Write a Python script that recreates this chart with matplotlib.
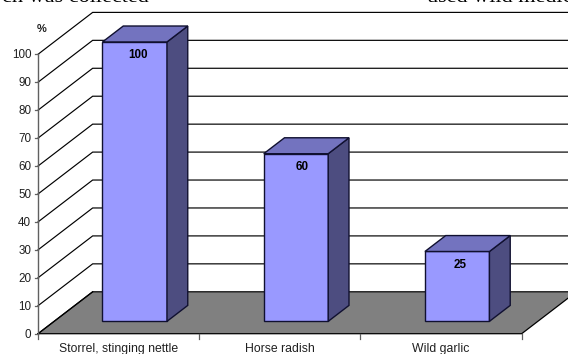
import matplotlib
matplotlib.use('Agg')
import matplotlib.pyplot as plt
from matplotlib.patches import Polygon

categories = ['Storrel, stinging nettle', 'Horse radish', 'Wild garlic']
values = [100, 60, 25]
y_ticks = [0, 10, 20, 30, 40, 50, 60, 70, 80, 90, 100]

# oblique depth of the chart box, in axis units
depth_x = 0.339
depth_y = 15.0
bar_width = 0.4
bar_front = 0.295
bar_back = 0.675
label_nudge = [0.02, 0.04, 0.02]

W, H = 568, 354
plt.rcParams['font.family'] = ['Liberation Sans', 'DejaVu Sans']

fig = plt.figure(figsize=(W / 100, H / 100), dpi=100)
ax = fig.add_axes([38 / W, 1 - 333.7 / H, 483.7 / W, 279.4 / H])
ax.set_xlim(0, 3)
ax.set_ylim(0, 100)
ax.axis('off')


def pt(x, v, d=0.0):
    # project a point at a given depth (0 front, 1 back) into the axes
    return (x + depth_x * d, v + depth_y * d)


def face(points, color, z, edge='#101030', lw=1.0):
    ax.add_patch(Polygon(points, closed=True, facecolor=color, edgecolor=edge,
                         linewidth=lw, zorder=z, clip_on=False, joinstyle='miter'))


# floor
face([pt(0, 0), pt(3, 0), pt(3, 0, 1), pt(3.3, 0, 1), pt(0, 0, 1)], '#808080', 1, edge='none')
ax.plot(*zip(pt(0, 0), pt(3, 0), pt(3, 0, 1)), color='black', lw=0.9, zorder=2, clip_on=False)
ax.plot(*zip(pt(0, 0), pt(0, 0, 1)), color='black', lw=0.9, zorder=2, clip_on=False)

# grid on the side and back walls
for t in y_ticks:
    ax.plot(*zip(pt(0, t), pt(0, t, 1), pt(3.3, t, 1)), color='black', lw=0.85,
            zorder=1.5, clip_on=False, solid_joinstyle='miter', snap=False)

# value axis
ax.plot([0, 0], [0, 100], color='#606060', lw=1.0, zorder=3, clip_on=False)
for t in y_ticks:
    ax.plot([-0.02, 0], [t, t], color='#606060', lw=0.9, zorder=3, clip_on=False)
    ax.text(-0.042, t - 0.4, str(t), ha='right', va='center', fontsize=8.4, color='#202020')
ax.text(0.05, 109, '%', ha='right', va='center', fontsize=8, fontweight='bold', color='#202020')

# category axis
for i in range(4):
    ax.plot([i, i], [0, -1.8], color='#606060', lw=0.9, zorder=3, clip_on=False)
for i, name in enumerate(categories):
    ax.text(i + 0.5, -5.5, name, ha='center', va='center', fontsize=8.8, color='#202020')

# bars, drawn as three visible faces
for i, v in enumerate(values):
    x0 = i + 0.5 - bar_width / 2
    x1 = x0 + bar_width
    face([pt(x0, 0, bar_front), pt(x1, 0, bar_front), pt(x1, v, bar_front), pt(x0, v, bar_front)], '#9999ff', 5)
    face([pt(x1, 0, bar_front), pt(x1, 0, bar_back), pt(x1, v, bar_back), pt(x1, v, bar_front)], '#4d4d80', 5)
    face([pt(x0, v, bar_front), pt(x1, v, bar_front), pt(x1, v, bar_back), pt(x0, v, bar_back)], '#7373bf', 5)
    tx, ty = pt(i + 0.5 + label_nudge[i], v, bar_front)
    ax.text(tx, ty - 4.8, str(v), ha='center', va='center', fontsize=8.4,
            fontweight='bold', color='black', zorder=6)

# body text running in from above the chart
fig.text(2 / W, 1 - 1.5 / H, 'ch was collected', family='Liberation Serif', fontsize=16,
         va='baseline', color='black')
fig.text(427 / W, 1 - 1.5 / H, 'used wild medicine', family='Liberation Serif', fontsize=16,
         va='baseline', color='black')

fig.savefig('out.png', dpi=100)
